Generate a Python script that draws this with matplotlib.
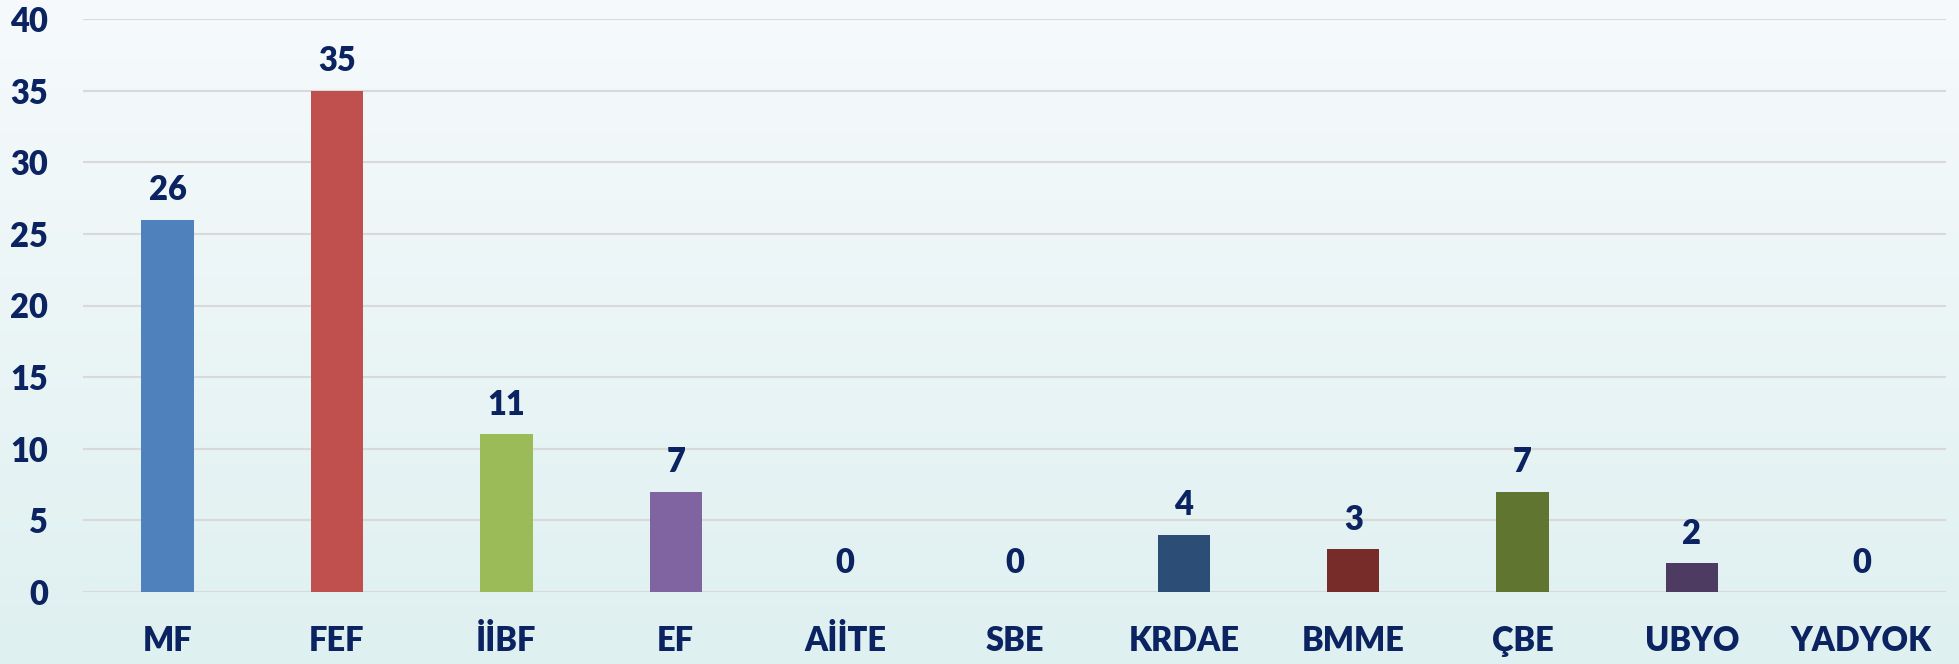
import matplotlib
matplotlib.use("Agg")
import matplotlib.pyplot as plt
import numpy as np

categories = ["MF", "FEF", "İİBF", "EF", "AİİTE", "SBE", "KRDAE", "BMME", "ÇBE", "UBYO", "YADYOK"]
values = [26, 35, 11, 7, 0, 0, 4, 3, 7, 2, 0]
bar_colors = ["#4F81BD", "#C0504D", "#9BBB59", "#8064A2", "#4BACC6", "#F79646",
              "#2C4D75", "#772C2A", "#5F7530", "#4D3B62", "#276A7C"]
yticks = [0, 5, 10, 15, 20, 25, 30, 35, 40]

text_color = "#0B2461"
plt.rcParams['font.family'] = ['Lato', 'DejaVu Sans']
FS = 23.5
FW = "heavy"

W, H = 1959, 664
fig = plt.figure(figsize=(W / 100, H / 100), dpi=100)

# background gradient
bg = fig.add_axes([0, 0, 1, 1], zorder=-10)
top = np.array([246, 250, 252]) / 255
bot = np.array([223, 240, 240]) / 255
t = np.linspace(0, 1, 256)[:, None]
grad = (top[None, :] * (1 - t) + bot[None, :] * t)[:, None, :]
bg.imshow(grad, aspect="auto", extent=[0, 1, 0, 1])
bg.set_axis_off()

ax = fig.add_axes([83 / W, 1 - 592 / H, (1946 - 83) / W, (592 - 19) / H])
ax.set_facecolor("none")
x = np.arange(len(categories))
ax.bar(x, values, width=0.31, color=bar_colors, zorder=3)
ax.set_xlim(-0.5, len(categories) - 0.5)
ax.set_ylim(0, 40)
ax.set_yticks(yticks)
ax.grid(axis="y", color="#D9D9D9", linewidth=1.5, zorder=0)
ax.set_axisbelow(True)
for s in ax.spines.values():
    s.set_visible(False)
ax.tick_params(axis="both", length=0)
ax.tick_params(axis="y", pad=25, labelsize=FS, labelcolor=text_color)
ax.tick_params(axis="x", pad=24, labelsize=FS, labelcolor=text_color)
ax.set_xticks(x)
ax.set_xticklabels(categories)
for lab in ax.get_xticklabels() + ax.get_yticklabels():
    lab.set_fontweight(FW)

for xi, v in zip(x, values):
    ax.annotate(str(v), (xi, v), xytext=(0, 14), textcoords="offset points",
                ha="center", va="baseline", fontsize=FS, fontweight=FW,
                color=text_color)

fig.savefig("out.png", dpi=100)
